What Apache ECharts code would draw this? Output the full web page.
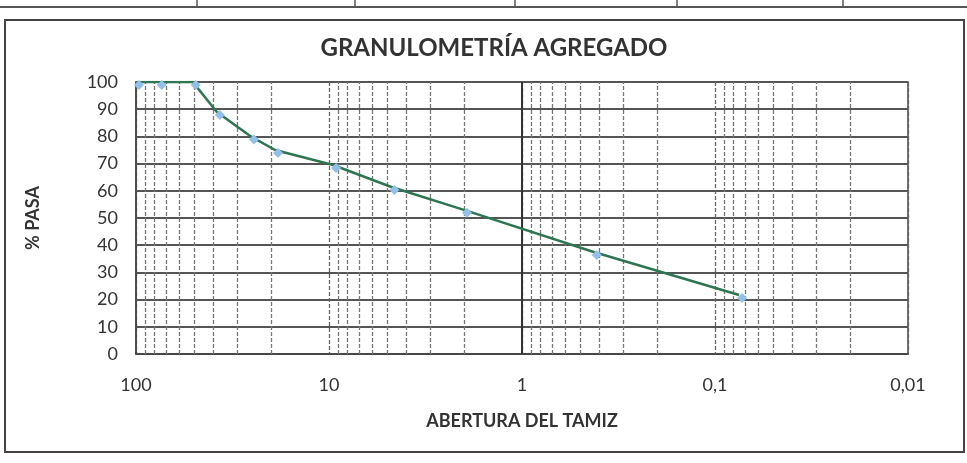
<!DOCTYPE html>
<html>
<head>
<meta charset="utf-8">
<script src="https://cdn.jsdelivr.net/npm/echarts@6/dist/echarts.min.js"></script>
<style>
  html, body { margin: 0; padding: 0; background: #ffffff; }
  #chart { width: 967px; height: 463px; }
</style>
</head>
<body>
<div id="chart"></div>
<script>
// Sieve openings (mm) and cumulative percent passing
const sieveOpening = [100, 76.2, 50.8, 38.1, 25.4, 19.05, 9.525, 4.75, 2.0, 0.425, 0.075];
const percentPassing = [100, 100, 100, 89, 80, 75, 69.5, 61.4, 53, 37.5, 21.7];

// Axis ticks
const yTicks = [0, 10, 20, 30, 40, 50, 60, 70, 80, 90, 100];
const decades = [0.01, 0.1, 1, 10];
const minorSteps = [2, 3, 4, 5, 6, 7, 8, 9];

// Minor vertical gridlines at 2..9 of every decade
const minorGrid = [];
decades.forEach(d => minorSteps.forEach(s => minorGrid.push({ xAxis: +(d * s).toPrecision(6) })));

const fontFamily = 'Lato, "Open Sans", sans-serif';

function fmtX(v) {
  return String(parseFloat(Number(v).toPrecision(6))).replace('.', ',');
}

const chart = echarts.init(document.getElementById('chart'), null, { renderer: 'canvas' });

chart.setOption({
  backgroundColor: '#ffffff',
  animation: false,
  title: {
    text: 'GRANULOMETRÍA AGREGADO',
    left: 489,
    top: 31,
    textAlign: 'center',
    textStyle: { fontFamily, fontSize: 24, fontWeight: 'bold', color: '#333' }
  },
  grid: {
    left: 136, right: 59, top: 82, bottom: 109,
    show: true, borderColor: '#444', borderWidth: 1.5, backgroundColor: '#fff'
  },
  xAxis: {
    type: 'log',
    logBase: 10,
    inverse: true,
    min: 0.01,
    max: 100,
    name: 'ABERTURA DEL TAMIZ',
    nameLocation: 'middle',
    nameGap: 58,
    nameTextStyle: { fontFamily, fontSize: 18, fontWeight: 'bold', color: '#333' },
    axisLine: { show: true, lineStyle: { color: '#444', width: 1.5 } },
    axisTick: { show: false },
    axisLabel: { formatter: fmtX, fontFamily, fontSize: 18, color: '#333', margin: 22 },
    splitLine: { show: true, lineStyle: { color: '#666', width: 1.3, type: [4, 2] } }
  },
  yAxis: {
    type: 'value',
    min: 0,
    max: 100,
    interval: 10,
    name: '% PASA',
    nameLocation: 'middle',
    nameRotate: 90,
    nameGap: 94,
    nameTextStyle: { fontFamily, fontSize: 18, fontWeight: 'bold', color: '#333' },
    axisLine: { show: true, lineStyle: { color: '#444', width: 1.5 } },
    axisTick: { show: false },
    axisLabel: {
      fontFamily, fontSize: 18, color: '#333', margin: 18,
      formatter: v => (yTicks.includes(v) ? String(v) : '')
    },
    splitLine: { show: true, lineStyle: { color: '#555', width: 2 } }
  },
  graphic: [
    { type: 'rect', shape: { x: 5, y: 20, width: 959, height: 432 },
      style: { fill: 'none', stroke: '#444', lineWidth: 2 }, z: -1 },
    { type: 'line', shape: { x1: 0, y1: 7, x2: 967, y2: 7 }, style: { stroke: '#555', lineWidth: 2 } },
    { type: 'line', shape: { x1: 197, y1: 0, x2: 197, y2: 7 }, style: { stroke: '#555', lineWidth: 1.5 } },
    { type: 'line', shape: { x1: 355, y1: 0, x2: 355, y2: 7 }, style: { stroke: '#555', lineWidth: 1.5 } },
    { type: 'line', shape: { x1: 515, y1: 0, x2: 515, y2: 7 }, style: { stroke: '#555', lineWidth: 1.5 } },
    { type: 'line', shape: { x1: 677, y1: 0, x2: 677, y2: 7 }, style: { stroke: '#555', lineWidth: 1.5 } },
    { type: 'line', shape: { x1: 843, y1: 0, x2: 843, y2: 7 }, style: { stroke: '#555', lineWidth: 1.5 } }
  ],
  series: [
    {
      // gridlines: minor decades dashed, 1 mm solid
      type: 'line',
      data: [],
      silent: true,
      markLine: {
        silent: true,
        symbol: 'none',
        label: { show: false },
        lineStyle: { color: '#777', width: 1.3, type: [4, 2] },
        data: minorGrid.concat([{ xAxis: 1, lineStyle: { color: '#333', width: 2, type: 'solid' } }])
      },
      z: 1
    },
    {
      name: '% PASA',
      type: 'line',
      data: sieveOpening.map((x, i) => [x, percentPassing[i]]),
      smooth: false,
      symbol: 'diamond',
      symbolSize: 10,
      symbolOffset: [3, 3],
      itemStyle: { color: '#93c0e8' },
      lineStyle: { color: '#2e7552', width: 2.5 },
      z: 5
    }
  ]
});
</script>
</body>
</html>
